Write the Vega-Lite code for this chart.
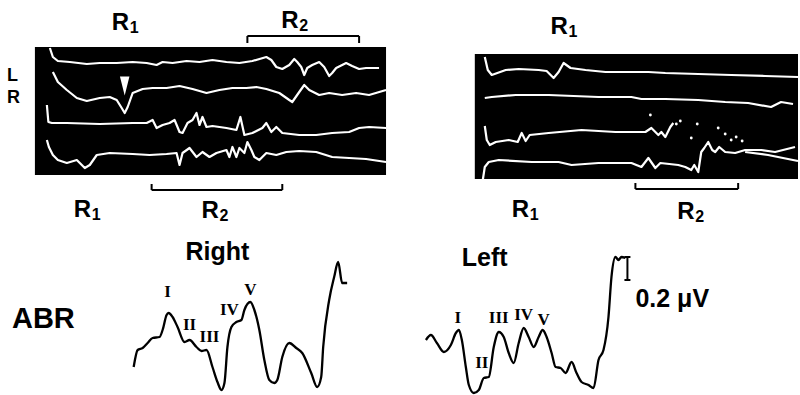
{
  "$schema": "https://vega.github.io/schema/vega-lite/v6.json",
  "width": 800,
  "height": 395,
  "autosize": {"type": "fit", "contains": "padding"},
  "padding": 0,
  "background": "white",
  "config": {"view": {"stroke": null}},
  "datasets": {
    "boxes": [
      {"x": 35, "x2": 387, "y": 47, "y2": 175},
      {"x": 476, "x2": 800, "y": 54, "y2": 179}
    ],
    "emg": [
      {"s": "L1", "x": 50, "y": 48}, {"s": "L1", "x": 53, "y": 57}, {"s": "L1", "x": 58, "y": 61}, {"s": "L1", "x": 70, "y": 62}, {"s": "L1", "x": 87, "y": 64}, {"s": "L1", "x": 100, "y": 63}, {"s": "L1", "x": 117, "y": 63}, {"s": "L1", "x": 133, "y": 62}, {"s": "L1", "x": 147, "y": 63}, {"s": "L1", "x": 157, "y": 65}, {"s": "L1", "x": 163, "y": 62}, {"s": "L1", "x": 173, "y": 63}, {"s": "L1", "x": 187, "y": 61}, {"s": "L1", "x": 200, "y": 62}, {"s": "L1", "x": 213, "y": 60}, {"s": "L1", "x": 227, "y": 62}, {"s": "L1", "x": 240, "y": 63}, {"s": "L1", "x": 253, "y": 61}, {"s": "L1", "x": 267, "y": 57}, {"s": "L1", "x": 272, "y": 60}, {"s": "L1", "x": 277, "y": 67}, {"s": "L1", "x": 283, "y": 69}, {"s": "L1", "x": 290, "y": 65}, {"s": "L1", "x": 295, "y": 59}, {"s": "L1", "x": 298, "y": 62}, {"s": "L1", "x": 302, "y": 67}, {"s": "L1", "x": 305, "y": 75}, {"s": "L1", "x": 308, "y": 68}, {"s": "L1", "x": 313, "y": 65}, {"s": "L1", "x": 320, "y": 62}, {"s": "L1", "x": 325, "y": 67}, {"s": "L1", "x": 330, "y": 76}, {"s": "L1", "x": 333, "y": 73}, {"s": "L1", "x": 337, "y": 68}, {"s": "L1", "x": 347, "y": 63}, {"s": "L1", "x": 353, "y": 66}, {"s": "L1", "x": 360, "y": 69}, {"s": "L1", "x": 367, "y": 68}, {"s": "L1", "x": 380, "y": 68},
      {"s": "L2", "x": 53, "y": 72}, {"s": "L2", "x": 58, "y": 82}, {"s": "L2", "x": 67, "y": 90}, {"s": "L2", "x": 77, "y": 98}, {"s": "L2", "x": 87, "y": 101}, {"s": "L2", "x": 100, "y": 98}, {"s": "L2", "x": 110, "y": 97}, {"s": "L2", "x": 117, "y": 100}, {"s": "L2", "x": 122, "y": 108}, {"s": "L2", "x": 125, "y": 113}, {"s": "L2", "x": 128, "y": 107}, {"s": "L2", "x": 133, "y": 93}, {"s": "L2", "x": 143, "y": 89}, {"s": "L2", "x": 153, "y": 88}, {"s": "L2", "x": 167, "y": 88}, {"s": "L2", "x": 180, "y": 86}, {"s": "L2", "x": 193, "y": 89}, {"s": "L2", "x": 207, "y": 93}, {"s": "L2", "x": 220, "y": 90}, {"s": "L2", "x": 233, "y": 88}, {"s": "L2", "x": 247, "y": 88}, {"s": "L2", "x": 257, "y": 87}, {"s": "L2", "x": 267, "y": 89}, {"s": "L2", "x": 280, "y": 93}, {"s": "L2", "x": 290, "y": 100}, {"s": "L2", "x": 293, "y": 102}, {"s": "L2", "x": 300, "y": 92}, {"s": "L2", "x": 305, "y": 85}, {"s": "L2", "x": 310, "y": 90}, {"s": "L2", "x": 320, "y": 95}, {"s": "L2", "x": 330, "y": 93}, {"s": "L2", "x": 343, "y": 95}, {"s": "L2", "x": 357, "y": 93}, {"s": "L2", "x": 370, "y": 95}, {"s": "L2", "x": 387, "y": 90},
      {"s": "L3", "x": 47, "y": 105}, {"s": "L3", "x": 48.5, "y": 122}, {"s": "L3", "x": 52, "y": 123}, {"s": "L3", "x": 67, "y": 123}, {"s": "L3", "x": 100, "y": 124}, {"s": "L3", "x": 133, "y": 123}, {"s": "L3", "x": 147, "y": 123}, {"s": "L3", "x": 153, "y": 120}, {"s": "L3", "x": 157, "y": 128}, {"s": "L3", "x": 163, "y": 125}, {"s": "L3", "x": 170, "y": 123}, {"s": "L3", "x": 175, "y": 120}, {"s": "L3", "x": 180, "y": 132}, {"s": "L3", "x": 183, "y": 133}, {"s": "L3", "x": 188, "y": 123}, {"s": "L3", "x": 193, "y": 120}, {"s": "L3", "x": 197, "y": 113}, {"s": "L3", "x": 200, "y": 125}, {"s": "L3", "x": 203, "y": 117}, {"s": "L3", "x": 207, "y": 127}, {"s": "L3", "x": 213, "y": 126}, {"s": "L3", "x": 227, "y": 128}, {"s": "L3", "x": 237, "y": 130}, {"s": "L3", "x": 241, "y": 117}, {"s": "L3", "x": 245, "y": 135}, {"s": "L3", "x": 253, "y": 133}, {"s": "L3", "x": 263, "y": 128}, {"s": "L3", "x": 267, "y": 123}, {"s": "L3", "x": 272, "y": 132}, {"s": "L3", "x": 277, "y": 127}, {"s": "L3", "x": 283, "y": 133}, {"s": "L3", "x": 300, "y": 135}, {"s": "L3", "x": 317, "y": 135}, {"s": "L3", "x": 333, "y": 133}, {"s": "L3", "x": 350, "y": 132}, {"s": "L3", "x": 360, "y": 128}, {"s": "L3", "x": 370, "y": 127}, {"s": "L3", "x": 387, "y": 128},
      {"s": "L4", "x": 47, "y": 140}, {"s": "L4", "x": 49, "y": 147}, {"s": "L4", "x": 53, "y": 155}, {"s": "L4", "x": 58, "y": 160}, {"s": "L4", "x": 67, "y": 163}, {"s": "L4", "x": 77, "y": 160}, {"s": "L4", "x": 85, "y": 168}, {"s": "L4", "x": 90, "y": 165}, {"s": "L4", "x": 97, "y": 155}, {"s": "L4", "x": 110, "y": 153}, {"s": "L4", "x": 133, "y": 154}, {"s": "L4", "x": 150, "y": 155}, {"s": "L4", "x": 167, "y": 154}, {"s": "L4", "x": 177, "y": 153}, {"s": "L4", "x": 180, "y": 165}, {"s": "L4", "x": 183, "y": 153}, {"s": "L4", "x": 190, "y": 148}, {"s": "L4", "x": 197, "y": 157}, {"s": "L4", "x": 203, "y": 152}, {"s": "L4", "x": 210, "y": 157}, {"s": "L4", "x": 217, "y": 153}, {"s": "L4", "x": 227, "y": 150}, {"s": "L4", "x": 230, "y": 157}, {"s": "L4", "x": 233, "y": 147}, {"s": "L4", "x": 237, "y": 157}, {"s": "L4", "x": 240, "y": 148}, {"s": "L4", "x": 245, "y": 153}, {"s": "L4", "x": 248, "y": 142}, {"s": "L4", "x": 252, "y": 150}, {"s": "L4", "x": 255, "y": 157}, {"s": "L4", "x": 260, "y": 160}, {"s": "L4", "x": 267, "y": 153}, {"s": "L4", "x": 277, "y": 155}, {"s": "L4", "x": 287, "y": 152}, {"s": "L4", "x": 300, "y": 151}, {"s": "L4", "x": 317, "y": 152}, {"s": "L4", "x": 333, "y": 157}, {"s": "L4", "x": 350, "y": 158}, {"s": "L4", "x": 367, "y": 159}, {"s": "L4", "x": 387, "y": 162},
      {"s": "R1", "x": 486, "y": 57}, {"s": "R1", "x": 489, "y": 70}, {"s": "R1", "x": 493, "y": 75}, {"s": "R1", "x": 507, "y": 70}, {"s": "R1", "x": 520, "y": 69}, {"s": "R1", "x": 540, "y": 70}, {"s": "R1", "x": 548, "y": 71}, {"s": "R1", "x": 555, "y": 78}, {"s": "R1", "x": 560, "y": 72}, {"s": "R1", "x": 565, "y": 63}, {"s": "R1", "x": 572, "y": 68}, {"s": "R1", "x": 587, "y": 70}, {"s": "R1", "x": 607, "y": 72}, {"s": "R1", "x": 633, "y": 72}, {"s": "R1", "x": 650, "y": 72}, {"s": "R1", "x": 667, "y": 73}, {"s": "R1", "x": 700, "y": 74}, {"s": "R1", "x": 733, "y": 75}, {"s": "R1", "x": 767, "y": 76}, {"s": "R1", "x": 800, "y": 77},
      {"s": "R2", "x": 486, "y": 98}, {"s": "R2", "x": 493, "y": 97}, {"s": "R2", "x": 517, "y": 95}, {"s": "R2", "x": 550, "y": 95}, {"s": "R2", "x": 600, "y": 97}, {"s": "R2", "x": 633, "y": 97}, {"s": "R2", "x": 643, "y": 99}, {"s": "R2", "x": 667, "y": 99}, {"s": "R2", "x": 700, "y": 100}, {"s": "R2", "x": 727, "y": 102}, {"s": "R2", "x": 750, "y": 103}, {"s": "R2", "x": 773, "y": 107}, {"s": "R2", "x": 783, "y": 102}, {"s": "R2", "x": 795, "y": 104},
      {"s": "R3", "x": 486, "y": 126}, {"s": "R3", "x": 488, "y": 140}, {"s": "R3", "x": 491, "y": 145}, {"s": "R3", "x": 497, "y": 142}, {"s": "R3", "x": 510, "y": 140}, {"s": "R3", "x": 519, "y": 142}, {"s": "R3", "x": 523, "y": 133}, {"s": "R3", "x": 527, "y": 141}, {"s": "R3", "x": 531, "y": 135}, {"s": "R3", "x": 550, "y": 133}, {"s": "R3", "x": 583, "y": 130}, {"s": "R3", "x": 617, "y": 132}, {"s": "R3", "x": 647, "y": 132}, {"s": "R3", "x": 653, "y": 128}, {"s": "R3", "x": 660, "y": 135}, {"s": "R3", "x": 663, "y": 132}, {"s": "R3", "x": 667, "y": 137}, {"s": "R3", "x": 672, "y": 127}, {"s": "R3", "x": 675, "y": 123},
      {"s": "R4", "x": 484, "y": 180}, {"s": "R4", "x": 486, "y": 167}, {"s": "R4", "x": 490, "y": 162}, {"s": "R4", "x": 500, "y": 160}, {"s": "R4", "x": 533, "y": 162}, {"s": "R4", "x": 560, "y": 162}, {"s": "R4", "x": 573, "y": 165}, {"s": "R4", "x": 600, "y": 163}, {"s": "R4", "x": 633, "y": 163}, {"s": "R4", "x": 643, "y": 167}, {"s": "R4", "x": 650, "y": 158}, {"s": "R4", "x": 657, "y": 168}, {"s": "R4", "x": 662, "y": 163}, {"s": "R4", "x": 680, "y": 165}, {"s": "R4", "x": 687, "y": 167}, {"s": "R4", "x": 693, "y": 170}, {"s": "R4", "x": 696, "y": 165}, {"s": "R4", "x": 700, "y": 172}, {"s": "R4", "x": 703, "y": 152}, {"s": "R4", "x": 706, "y": 148}, {"s": "R4", "x": 710, "y": 142}, {"s": "R4", "x": 714, "y": 150}, {"s": "R4", "x": 717, "y": 152}, {"s": "R4", "x": 721, "y": 147}, {"s": "R4", "x": 727, "y": 152}, {"s": "R4", "x": 737, "y": 153}, {"s": "R4", "x": 747, "y": 150}, {"s": "R4", "x": 763, "y": 150}, {"s": "R4", "x": 777, "y": 152}, {"s": "R4", "x": 797, "y": 147},
      {"s": "R4b", "x": 747, "y": 152}, {"s": "R4b", "x": 770, "y": 155}, {"s": "R4b", "x": 800, "y": 161}
    ],
    "dots": [
      {"x": 652, "y": 115}, {"x": 678, "y": 124}, {"x": 682, "y": 121}, {"x": 693, "y": 138}, {"x": 699, "y": 124}, {"x": 720, "y": 128}, {"x": 727, "y": 134}, {"x": 733, "y": 140}, {"x": 738, "y": 137}, {"x": 744, "y": 141}
    ],
    "arrow": [{"x": 125, "y": 86}],
    "rules": [
      {"x": 248, "x2": 360, "y": 36, "y2": 36}, {"x": 248, "x2": 248, "y": 36, "y2": 43}, {"x": 360, "x2": 360, "y": 36, "y2": 43},
      {"x": 152, "x2": 283, "y": 190, "y2": 190}, {"x": 152, "x2": 152, "y": 184, "y2": 190}, {"x": 283, "x2": 283, "y": 184, "y2": 190},
      {"x": 637, "x2": 740, "y": 189, "y2": 189}, {"x": 637, "x2": 637, "y": 183, "y2": 189}, {"x": 740, "x2": 740, "y": 183, "y2": 189},
      {"x": 629, "x2": 629, "y": 257, "y2": 280}, {"x": 626, "x2": 632, "y": 257, "y2": 257}, {"x": 626, "x2": 632, "y": 280, "y2": 280}
    ],
    "abr": [
      {"s": "Right", "x": 134, "y": 367}, {"s": "Right", "x": 138, "y": 350}, {"s": "Right", "x": 143, "y": 348}, {"s": "Right", "x": 148, "y": 343}, {"s": "Right", "x": 153, "y": 338}, {"s": "Right", "x": 160, "y": 337}, {"s": "Right", "x": 163, "y": 330}, {"s": "Right", "x": 167, "y": 315}, {"s": "Right", "x": 169, "y": 313}, {"s": "Right", "x": 173, "y": 317}, {"s": "Right", "x": 178, "y": 327}, {"s": "Right", "x": 185, "y": 342}, {"s": "Right", "x": 190, "y": 340}, {"s": "Right", "x": 197, "y": 347}, {"s": "Right", "x": 202, "y": 351}, {"s": "Right", "x": 207, "y": 350}, {"s": "Right", "x": 213, "y": 367}, {"s": "Right", "x": 218, "y": 382}, {"s": "Right", "x": 222, "y": 390}, {"s": "Right", "x": 225, "y": 383}, {"s": "Right", "x": 228, "y": 347}, {"s": "Right", "x": 232, "y": 327}, {"s": "Right", "x": 237, "y": 322}, {"s": "Right", "x": 242, "y": 320}, {"s": "Right", "x": 245, "y": 310}, {"s": "Right", "x": 251, "y": 302}, {"s": "Right", "x": 255, "y": 310}, {"s": "Right", "x": 260, "y": 330}, {"s": "Right", "x": 265, "y": 360}, {"s": "Right", "x": 270, "y": 380}, {"s": "Right", "x": 275, "y": 383}, {"s": "Right", "x": 278, "y": 380}, {"s": "Right", "x": 283, "y": 357}, {"s": "Right", "x": 290, "y": 343}, {"s": "Right", "x": 297, "y": 348}, {"s": "Right", "x": 303, "y": 353}, {"s": "Right", "x": 312, "y": 373}, {"s": "Right", "x": 318, "y": 387}, {"s": "Right", "x": 322, "y": 377}, {"s": "Right", "x": 324, "y": 347}, {"s": "Right", "x": 330, "y": 300}, {"s": "Right", "x": 335, "y": 277}, {"s": "Right", "x": 339, "y": 262}, {"s": "Right", "x": 343, "y": 283}, {"s": "Right", "x": 348, "y": 283},
      {"s": "Left", "x": 427, "y": 340}, {"s": "Left", "x": 432, "y": 335}, {"s": "Left", "x": 438, "y": 343}, {"s": "Left", "x": 445, "y": 352}, {"s": "Left", "x": 452, "y": 345}, {"s": "Left", "x": 457, "y": 333}, {"s": "Left", "x": 460, "y": 330}, {"s": "Left", "x": 463, "y": 340}, {"s": "Left", "x": 467, "y": 367}, {"s": "Left", "x": 470, "y": 385}, {"s": "Left", "x": 475, "y": 393}, {"s": "Left", "x": 480, "y": 390}, {"s": "Left", "x": 485, "y": 378}, {"s": "Left", "x": 490, "y": 377}, {"s": "Left", "x": 495, "y": 347}, {"s": "Left", "x": 500, "y": 332}, {"s": "Left", "x": 505, "y": 337}, {"s": "Left", "x": 510, "y": 353}, {"s": "Left", "x": 515, "y": 363}, {"s": "Left", "x": 520, "y": 343}, {"s": "Left", "x": 525, "y": 328}, {"s": "Left", "x": 530, "y": 337}, {"s": "Left", "x": 535, "y": 347}, {"s": "Left", "x": 540, "y": 337}, {"s": "Left", "x": 544, "y": 330}, {"s": "Left", "x": 548, "y": 337}, {"s": "Left", "x": 553, "y": 353}, {"s": "Left", "x": 557, "y": 367}, {"s": "Left", "x": 562, "y": 368}, {"s": "Left", "x": 567, "y": 373}, {"s": "Left", "x": 573, "y": 362}, {"s": "Left", "x": 578, "y": 373}, {"s": "Left", "x": 583, "y": 382}, {"s": "Left", "x": 590, "y": 385}, {"s": "Left", "x": 595, "y": 388}, {"s": "Left", "x": 600, "y": 360}, {"s": "Left", "x": 605, "y": 350}, {"s": "Left", "x": 610, "y": 317}, {"s": "Left", "x": 613, "y": 277}, {"s": "Left", "x": 617, "y": 257}, {"s": "Left", "x": 620, "y": 260}, {"s": "Left", "x": 623, "y": 257}, {"s": "Left", "x": 627, "y": 258}
    ],
    "rlabels": [
      {"t": "R", "x": 112, "y": 30}, {"t": "R", "x": 282, "y": 28}, {"t": "R", "x": 552, "y": 34},
      {"t": "R", "x": 74, "y": 217}, {"t": "R", "x": 202, "y": 218}, {"t": "R", "x": 513, "y": 217}, {"t": "R", "x": 679, "y": 219}
    ],
    "subs": [
      {"t": "1", "x": 130, "y": 33}, {"t": "2", "x": 300, "y": 31}, {"t": "1", "x": 570, "y": 37},
      {"t": "1", "x": 92, "y": 220}, {"t": "2", "x": 220, "y": 221}, {"t": "1", "x": 531, "y": 220}, {"t": "2", "x": 697, "y": 222}
    ],
    "lr": [{"t": "L", "x": 7, "y": 81}, {"t": "R", "x": 7, "y": 103}],
    "titles": [{"t": "Right", "x": 186, "y": 260}, {"t": "Left", "x": 463, "y": 266}, {"t": "0.2 μV", "x": 637, "y": 307}],
    "abrlabel": [{"t": "ABR", "x": 12, "y": 328}],
    "roman": [
      {"t": "I", "x": 168, "y": 297}, {"t": "II", "x": 190, "y": 330}, {"t": "III", "x": 210, "y": 342}, {"t": "IV", "x": 230, "y": 315}, {"t": "V", "x": 251, "y": 295},
      {"t": "I", "x": 459, "y": 323}, {"t": "II", "x": 483, "y": 368}, {"t": "III", "x": 500, "y": 323}, {"t": "IV", "x": 525, "y": 320}, {"t": "V", "x": 545, "y": 325}
    ]
  },
  "encoding": {
    "x": {"field": "x", "type": "quantitative", "scale": {"domain": [0, 800], "nice": false, "zero": false}, "axis": null},
    "y": {"field": "y", "type": "quantitative", "scale": {"domain": [0, 395], "nice": false, "zero": false, "reverse": true}, "axis": null}
  },
  "layer": [
    {"data": {"name": "boxes"}, "mark": {"type": "rect", "color": "black"}, "encoding": {"x2": {"field": "x2"}, "y2": {"field": "y2"}}},
    {"data": {"name": "emg"}, "mark": {"type": "line", "color": "white", "strokeWidth": 2.2, "strokeJoin": "round"}, "encoding": {"detail": {"field": "s"}}},
    {"data": {"name": "dots"}, "mark": {"type": "point", "filled": true, "color": "white", "size": 8, "opacity": 1}},
    {"data": {"name": "arrow"}, "mark": {"type": "point", "filled": true, "color": "white", "opacity": 1, "shape": "M-0.5,-1L0.5,-1L0,1Z", "size": 360}},
    {"data": {"name": "rules"}, "mark": {"type": "rule", "color": "black", "strokeWidth": 2}, "encoding": {"x2": {"field": "x2"}, "y2": {"field": "y2"}}},
    {"data": {"name": "abr"}, "mark": {"type": "line", "color": "black", "strokeWidth": 2.3, "strokeJoin": "round", "interpolate": "monotone"}, "encoding": {"detail": {"field": "s"}}},
    {"data": {"name": "rlabels"}, "mark": {"type": "text", "font": "Liberation Sans", "fontWeight": "bold", "fontSize": 24, "align": "left", "baseline": "alphabetic", "color": "black"}, "encoding": {"text": {"field": "t"}}},
    {"data": {"name": "subs"}, "mark": {"type": "text", "font": "Liberation Sans", "fontWeight": "bold", "fontSize": 16, "align": "left", "baseline": "alphabetic", "color": "black"}, "encoding": {"text": {"field": "t"}}},
    {"data": {"name": "lr"}, "mark": {"type": "text", "font": "Liberation Sans", "fontWeight": "bold", "fontSize": 18, "align": "left", "baseline": "alphabetic", "color": "black"}, "encoding": {"text": {"field": "t"}}},
    {"data": {"name": "titles"}, "mark": {"type": "text", "font": "Liberation Sans", "fontWeight": "bold", "fontSize": 25, "align": "left", "baseline": "alphabetic", "color": "black"}, "encoding": {"text": {"field": "t"}}},
    {"data": {"name": "abrlabel"}, "mark": {"type": "text", "font": "Liberation Sans", "fontWeight": "bold", "fontSize": 29, "align": "left", "baseline": "alphabetic", "color": "black"}, "encoding": {"text": {"field": "t"}}},
    {"data": {"name": "roman"}, "mark": {"type": "text", "font": "Liberation Serif", "fontWeight": "bold", "fontSize": 17, "align": "center", "baseline": "alphabetic", "color": "black"}, "encoding": {"text": {"field": "t"}}}
  ]
}
